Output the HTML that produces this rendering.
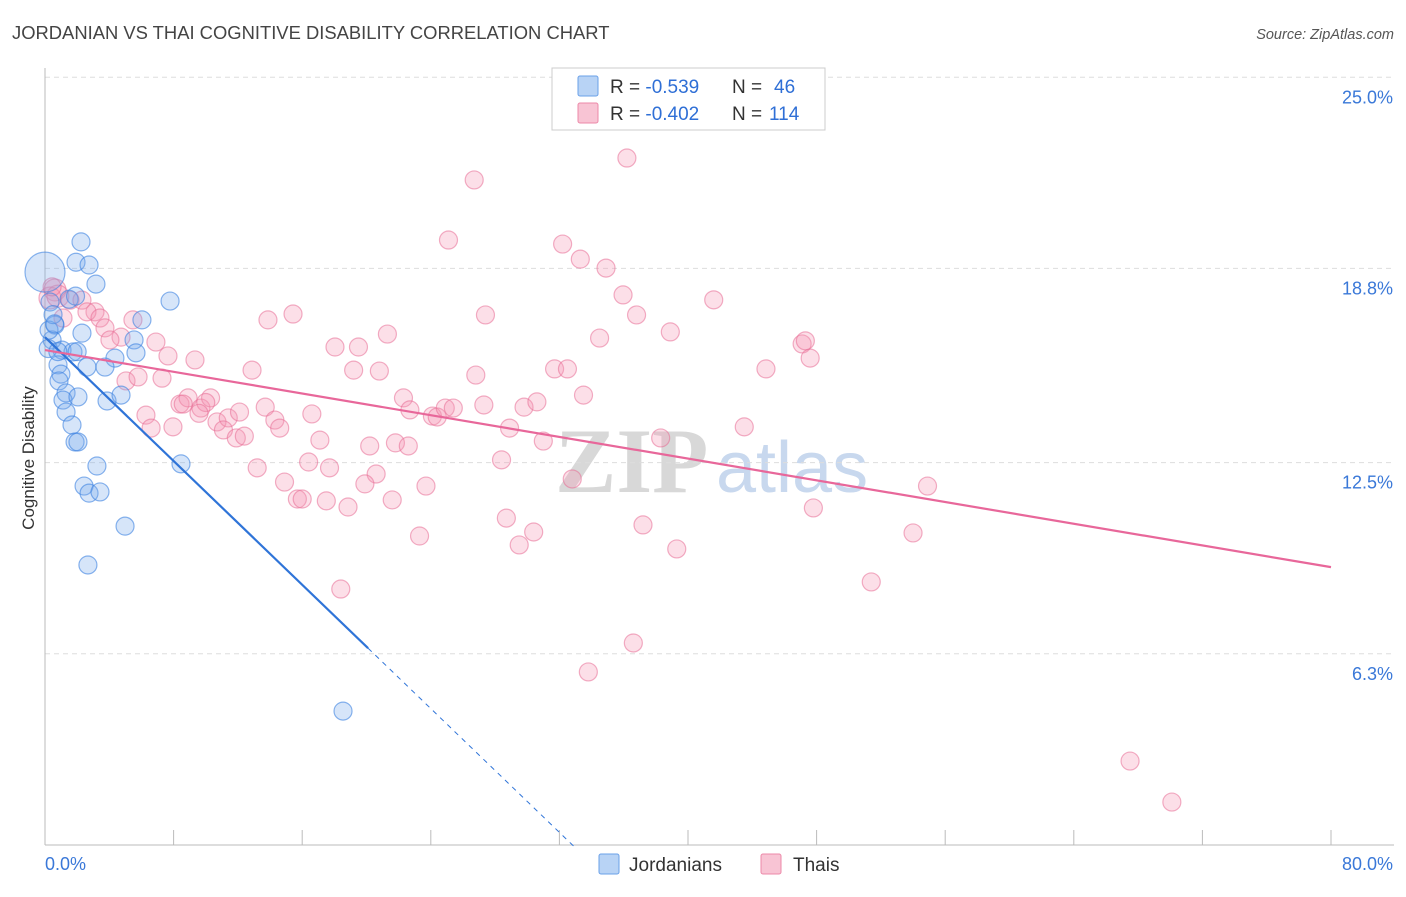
<!DOCTYPE html>
<html><head><meta charset="utf-8"><style>
body{margin:0;background:#fff;font-family:"Liberation Sans",sans-serif}
</style></head><body>
<svg id="c" width="1406" height="892" xmlns="http://www.w3.org/2000/svg">
<text x="12" y="39" font-size="18.4" fill="#444">JORDANIAN VS THAI COGNITIVE DISABILITY CORRELATION CHART</text>
<text x="1394" y="39" font-size="14.5" fill="#555" font-style="italic" text-anchor="end">Source: ZipAtlas.com</text>
<text x="34" y="458" font-size="17" fill="#333" text-anchor="middle" transform="rotate(-90 34 458)">Cognitive Disability</text>
<text x="555" y="492" font-size="92" fill="#d8d8d8" font-weight="bold" font-family="Liberation Serif,serif">ZIP</text>
<text x="716" y="492" font-size="72" fill="#c8d8ee">atlas</text>
<g id="grid"></g><g id="pts"></g><g id="lines"></g>
<g>
<rect x="552" y="68" width="273" height="62" fill="#fff" stroke="#ccc"/>
<rect x="578" y="76" width="20" height="20" fill="#b8d3f5" stroke="#6aa0e8" rx="2"/>
<rect x="578" y="103" width="20" height="20" fill="#f8c4d4" stroke="#ec88a8" rx="2"/>
<text x="610" y="93" font-size="19" fill="#333">R = <tspan fill="#2f6fd6">-0.539</tspan><tspan x="732">N = </tspan><tspan fill="#2f6fd6" x="774">46</tspan></text>
<text x="610" y="120" font-size="19" fill="#333">R = <tspan fill="#2f6fd6">-0.402</tspan><tspan x="732">N = </tspan><tspan fill="#2f6fd6" x="769">114</tspan></text>
</g>
<rect x="599" y="854" width="20" height="20" fill="#b8d3f5" stroke="#6aa0e8" rx="2"/>
<text x="629" y="871" font-size="19" fill="#333">Jordanians</text>
<rect x="761" y="854" width="20" height="20" fill="#f8c4d4" stroke="#ec88a8" rx="2"/>
<text x="793" y="871" font-size="19" fill="#333">Thais</text>
</svg>
<script>
const yTicks=[25.0,18.8,12.5,6.3];
const yTickLabels=["25.0%","18.8%","12.5%","6.3%"];
const xTicks=[0,8,16,24,32,40,48,56,64,72,80];
const blueX=[2.24,1.93,2.74,3.17,0,7.78,6.03,0.62,2.30,0.44,1.06,1.74,5.54,5.66,4.35,2.61,3.73,0.81,0.99,0.87,1.31,1.12,2.05,3.86,4.73,1.31,1.68,1.87,2.05,3.23,8.46,2.43,2.74,3.42,4.98,2.67,18.54,0.25,0.31,0.5,1.5,0.2,0.8,1.9,0.6,2.0];
const blueY=[19.66,19.0,18.91,18.29,18.68,17.74,17.13,16.96,16.70,16.48,16.15,16.09,16.48,16.06,15.89,15.60,15.60,15.67,15.37,15.15,14.76,14.53,14.63,14.50,14.69,14.14,13.72,13.17,13.17,12.39,12.46,11.74,11.51,11.55,10.44,9.18,4.44,16.80,17.71,17.3,17.8,16.2,16.1,17.9,17.0,16.1];
const pinkX=[36.2,26.7,25.1,32.2,33.3,34.9,35.96,41.6,36.8,27.4,15.43,13.87,21.3,34.5,38.9,47.1,47.3,47.6,18.04,19.5,12.88,19.2,20.8,26.8,31.7,32.5,44.85,33.5,22.3,22.7,24.1,24.4,24.9,25.4,27.3,29.8,30.6,13.7,16.6,14.3,14.6,28.9,17.1,31.0,38.3,43.5,20.2,21.8,22.6,28.4,32.8,13.2,16.4,17.7,20.6,14.9,19.9,23.7,54.9,15.7,16.0,17.5,21.6,18.85,47.8,28.7,37.2,30.4,23.3,54.0,29.5,39.3,51.4,18.4,36.6,33.8,67.5,70.1,0.62,0.31,0.8,1.56,2.3,3.11,2.61,3.42,3.73,4.73,4.04,5.47,6.9,7.65,9.33,5.04,5.79,7.28,6.28,6.6,7.96,8.4,8.9,8.6,9.7,10.3,10.0,9.58,10.7,11.4,11.1,12.1,11.9,12.4,1.12,0.44];
const pinkY=[22.38,21.67,19.72,19.59,19.1,18.81,17.94,17.78,17.29,17.29,17.32,17.13,16.67,16.54,16.74,16.35,16.45,15.89,16.25,16.25,15.5,15.5,15.47,15.34,15.54,15.54,15.54,14.69,14.6,14.21,14.01,13.98,14.27,14.27,14.37,14.3,14.47,14.3,14.08,13.88,13.62,13.62,13.23,13.2,13.3,13.66,13.04,13.14,13.04,12.59,11.97,12.33,12.52,12.33,12.13,11.87,11.81,11.74,11.74,11.32,11.32,11.26,11.29,11.06,11.03,10.7,10.48,10.25,10.12,10.22,9.83,9.7,8.63,8.4,6.65,5.71,2.82,1.49,18.1,17.84,17.9,17.77,17.77,17.39,17.39,17.19,16.87,16.57,16.48,17.13,16.41,15.96,15.83,15.15,15.28,15.24,14.04,13.62,13.66,14.4,14.6,14.4,14.27,14.6,14.45,14.1,13.82,13.95,13.56,14.14,13.3,13.36,17.19,18.2];
const blueTrend=[16.57,-0.502];
const pinkTrend=[16.15,-0.088];
const X=v=>45+v*16.075, Y=v=>848-v*30.83;
const NS="http://www.w3.org/2000/svg";
function mk(p,t,a){const e=document.createElementNS(NS,t);for(const k in a)e.setAttribute(k,a[k]);p.appendChild(e);return e;}
const g=document.getElementById('grid');
yTicks.forEach((t,i)=>{
 const l=mk(g,'line',{x1:45,x2:1394,y1:Y(t),y2:Y(t),stroke:'#ddd','stroke-dasharray':'5,4'});
 
 
 const tx=mk(g,'text',{x:1393,y:Y(t)+26,'font-size':18,fill:'#3a78d8','text-anchor':'end'});tx.textContent=yTickLabels[i];
 
 
});
const ax=mk(g,'line',{x1:45,x2:45,y1:68,y2:845,stroke:'#bbb'});


const bx=mk(g,'line',{x1:45,x2:1394,y1:845,y2:845,stroke:'#bbb'});


xTicks.forEach(t=>{const l=mk(g,'line',{x1:X(t),x2:X(t),y1:830,y2:845,stroke:'#bbb'});
 
 });
const x0=mk(g,'text',{x:45,y:870,'font-size':18,fill:'#3a78d8'});x0.textContent='0.0%';


const x1=mk(g,'text',{x:1393,y:870,'font-size':18,fill:'#3a78d8','text-anchor':'end'});x1.textContent='80.0%';


const P=document.getElementById('pts');
pinkX.forEach((v,i)=>{const big=i>=78&&i<=80;const c=mk(P,'circle',{cx:X(v),cy:Y(pinkY[i]),r:big?11:9,fill:'rgba(244,150,180,0.3)',stroke:'rgba(232,110,150,0.55)','stroke-width':1.2});
 
 });
blueX.forEach((v,i)=>{const c=mk(P,'circle',{cx:X(v),cy:Y(blueY[i]),r:i==4?20:9,fill:'rgba(120,170,235,0.3)',stroke:'rgba(60,130,225,0.6)','stroke-width':1.2});
 
 });
const L=document.getElementById('lines');
const bEnd=20.1, bZero=-blueTrend[0]/blueTrend[1];
let l1=mk(L,'line',{x1:X(0),y1:Y(blueTrend[0]),x2:X(bEnd),y2:Y(blueTrend[0]+blueTrend[1]*bEnd),stroke:'#2f74d8','stroke-width':2.2});


let l2=mk(L,'line',{x1:X(bEnd),y1:Y(blueTrend[0]+blueTrend[1]*bEnd),x2:X(bZero),y2:Y(0),stroke:'#2f74d8','stroke-width':1,'stroke-dasharray':'5,5'});


let l3=mk(L,'line',{x1:X(0),y1:Y(pinkTrend[0]),x2:X(80),y2:Y(pinkTrend[0]+pinkTrend[1]*80),stroke:'#e8679a','stroke-width':2.2});


</script>
</body></html>
